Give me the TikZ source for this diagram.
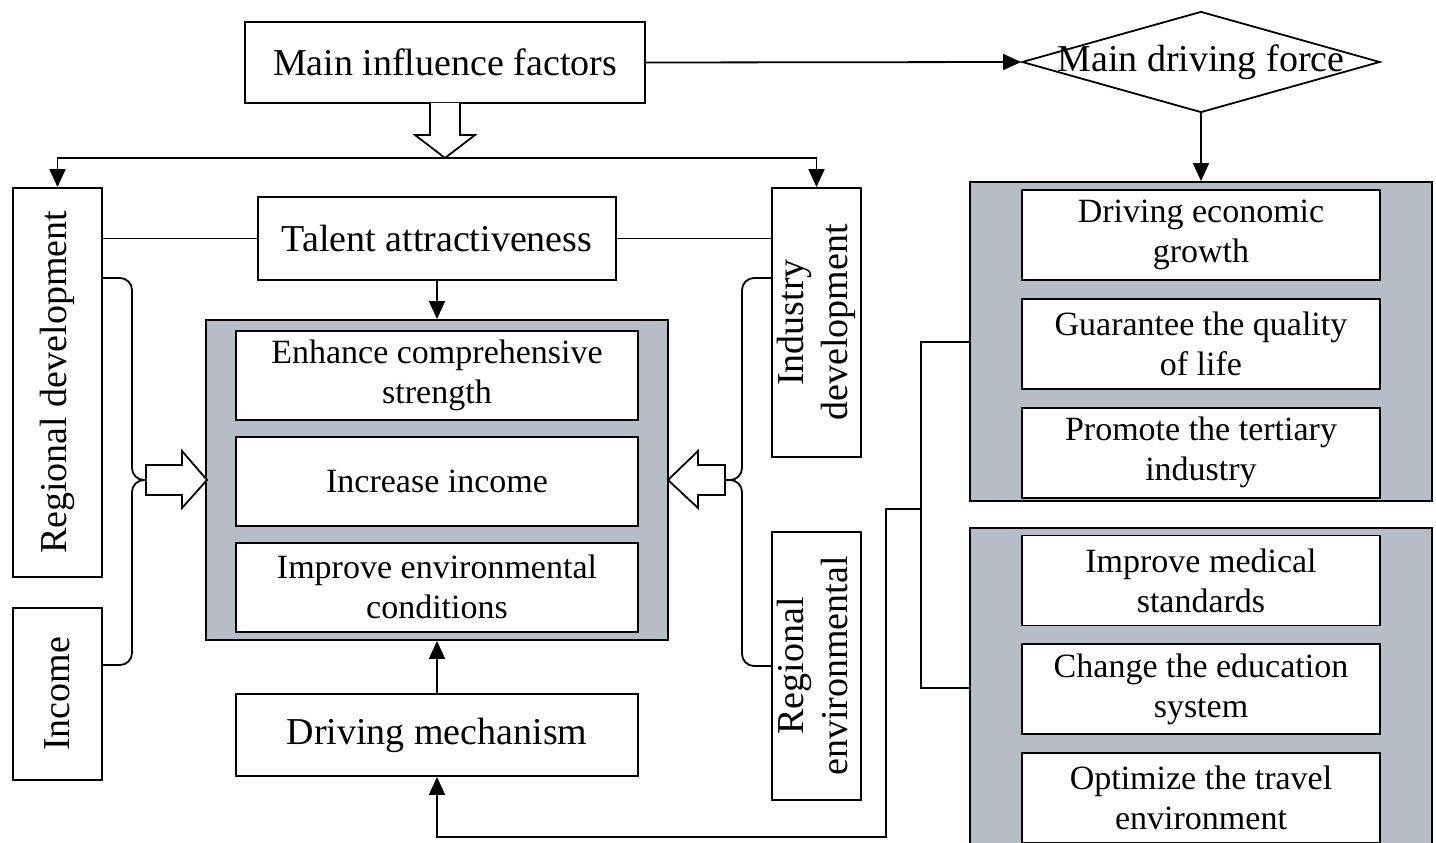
\documentclass[tikz,border=0pt]{standalone}
\usepackage{fontspec}
\setmainfont{Liberation Serif}
\usetikzlibrary{arrows.meta, positioning, shapes.geometric}
\definecolor{panelgray}{RGB}{182,189,199}

\begin{document}
\begin{tikzpicture}
    [x=1pt, y=-1pt,
    box/.style={draw, line width=1.8pt, fill=white, inner sep=0pt, align=center,
    font=\fontsize{38}{44}\selectfont},
    sidebox/.style={box, minimum width=89pt},
    item/.style={box, minimum height=89pt, font=\fontsize{34}{40}\selectfont},
    panel/.style={draw, line width=1.8pt, fill=panelgray, minimum width=462pt},
    hollow/.style={draw, line width=1.8pt, fill=white},
    link/.style={line width=1.8pt},
    arrow/.style={line width=1.8pt, -{Triangle[length=18pt, width=16pt]}}]
    \useasboundingbox (0,0) rectangle (1436,843);
    \clip (0,0) rectangle (1436,843);

    % top row
    \node [box, minimum width=400pt, minimum height=81pt] (factors) at (445,62.5) {Main influence factors};
    \node [diamond, draw, line width=1.8pt, minimum width=358pt, minimum height=101pt, inner sep=0pt]
    (force) at (1201,62) {};
    \node [font=\fontsize{38}{44}\selectfont] (forcetext) at (force.center) {Main driving force};

    % left side
    \node [sidebox, minimum height=389pt] (regdev) at (57.5,382.5) {\rotatebox{90}{Regional development}};
    \node [sidebox, minimum height=172pt] (income) at (57.5,694) {\rotatebox{90}{Income}};
    \node [sidebox, minimum height=269pt] (industry) at (816.5,322.5)
    {\rotatebox{90}{\begin{tabular}{@{}c@{}}Industry\\development\end{tabular}}};
    \node [sidebox, minimum height=268pt] (envir) at (816.5,666)
    {\rotatebox{90}{\begin{tabular}{@{}c@{}}Regional\\environmental\end{tabular}}};
    \node [box, minimum width=358pt, minimum height=83pt] (talent) at (437,238.5) {Talent attractiveness};

    \node [panel, minimum height=320pt] (panL) at (437,480) {};
    \node [item, minimum width=402pt] (strength) at (437,375.5) {Enhance comprehensive\\strength};
    \node [item, minimum width=402pt, below=15pt of strength] (incr) {Increase income};
    \node [item, minimum width=402pt, below=15pt of incr] (envcond) {Improve environmental\\conditions};
    \node [box, minimum width=402pt, minimum height=82pt] (mech) at (437,735) {Driving mechanism};

    % right side
    \node [panel, minimum height=319pt] (panA) at (1201,341.5) {};
    \node [item, minimum width=358pt, minimum height=90pt] (econ) at (1201,235) {Driving economic\\growth};
    \node [item, minimum width=358pt, minimum height=90pt, below=17pt of econ] (life) {Guarantee the quality\\of life};
    \node [item, minimum width=358pt, minimum height=90pt, below=17pt of life] (tert) {Promote the tertiary\\industry};
    \node [panel, minimum height=344pt] (panB) at (1201,700) {};
    \node [item, minimum width=358pt, minimum height=90pt] (medic) at (1201,580.5) {Improve medical\\standards};
    \node [item, minimum width=358pt, minimum height=90pt, below=17pt of medic] (edu) {Change the education\\system};
    \node [item, minimum width=358pt, minimum height=90pt, below=17pt of edu] (travel) {Optimize the travel\\environment};

    % hollow arrows
    \draw [hollow] (430,103) -- (430,135) -- (415,135) -- (445,158) -- (475,135) -- (460,135) -- (460,103);
    \draw [hollow] (146,465) -- (182,465) -- (182,451) -- (207,480) -- (182,508) -- (182,495) -- (146,495) -- cycle;
    \draw [hollow] (725,465) -- (698,465) -- (698,451) -- (668,480) -- (698,508) -- (698,495) -- (725,495) -- cycle;
    \coordinate (ltip) at (146,480);
    \coordinate (rtip) at (725,480);
    \coordinate (split) at (445,158);

    % connectors
    \draw [arrow] (factors.east) -- (force.west);
    \draw [arrow] (force.south) -- (panA.north);
    \draw [arrow] (split) -| (regdev.north);
    \draw [arrow] (split) -| (industry.north);
    \draw [link] (regdev.east |- talent) -- (talent.west);
    \draw [link] (talent.east) -- (industry.west |- talent);
    \draw [arrow] (talent) -- (panL);
    \draw [arrow] (mech) -- (panL);
    \draw [link, rounded corners=12pt] (regdev.east |- 0,278) -- (132,278) -- (132,480) -- (ltip);
    \draw [link, rounded corners=12pt] (income.east |- 0,665) -- (132,665) -- (132,480) -- (ltip);
    \draw [link, rounded corners=12pt] (industry.west |- 0,278) -- (742,278) -- (742,480) -- (rtip);
    \draw [link, rounded corners=12pt] (envir.west |- 0,666) -- (742,666) -- (742,480) -- (rtip);
    \draw [link] (panA.west |- 0,342) -| (921,688) -- (panB.west |- 0,688);
    \draw [arrow] (921,509) -| (886,837) -| (mech.south);
  \end{tikzpicture}
\end{document}
